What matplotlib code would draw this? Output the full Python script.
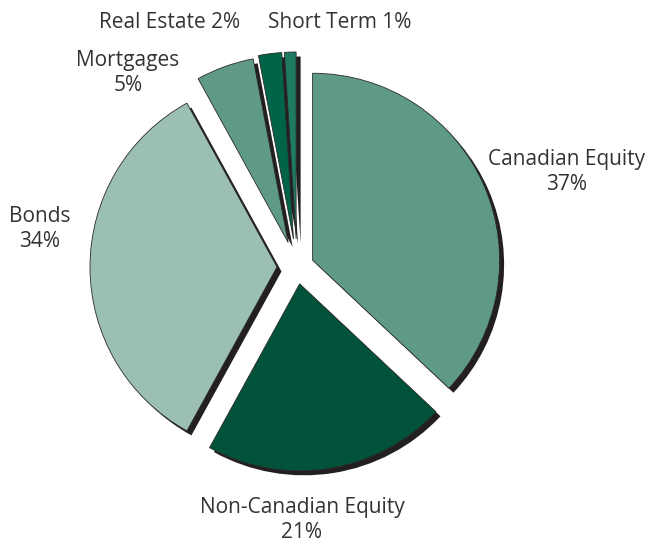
import matplotlib
matplotlib.use("Agg")
import matplotlib.pyplot as plt

categories = ["Canadian Equity", "Non-Canadian Equity", "Bonds", "Mortgages", "Real Estate", "Short Term"]
values = [37, 21, 34, 5, 2, 1]
colors = ["#5f9a88", "#00533a", "#9bbfb3", "#5f9a88", "#006548", "#1f7a62"]
explode = [17, 17, 20, 26, 28, 28]

label_text = ["Canadian Equity\n37%", "Non-Canadian Equity\n21%", "Bonds\n34%",
              "Mortgages\n5%", "Real Estate 2%", "Short Term 1%"]
label_pos = [(567, 371), (302, 23), (40, 314), (128, 470), (170, 521), (340, 521)]

W, H = 649, 543
fig = plt.figure(figsize=(W / 100, H / 100), dpi=100)
ax = fig.add_axes([0, 0, 1, 1])

cx, cy = 297, H - 267
R = 187

# shadow
ax.pie(values, radius=R, center=(cx + 4.5, cy - 4.5), startangle=90, counterclock=False,
       explode=explode, colors=["#231f20"] * len(values),
       wedgeprops=dict(linewidth=0, zorder=1), frame=True)
# main wedges
ax.pie(values, radius=R, center=(cx, cy), startangle=90, counterclock=False,
       explode=explode, colors=colors,
       wedgeprops=dict(linewidth=0.6, edgecolor="#2a2a2a", zorder=2), frame=True)

ax.set_xlim(0, W)
ax.set_ylim(0, H)
ax.set_aspect("equal")
ax.axis("off")

for txt, (x, y) in zip(label_text, label_pos):
    ax.text(x, y, txt, ha="center", va="center", fontsize=15, color="#333333",
            family=["Open Sans", "DejaVu Sans"], linespacing=1.3)

fig.savefig("out.png", dpi=100)
